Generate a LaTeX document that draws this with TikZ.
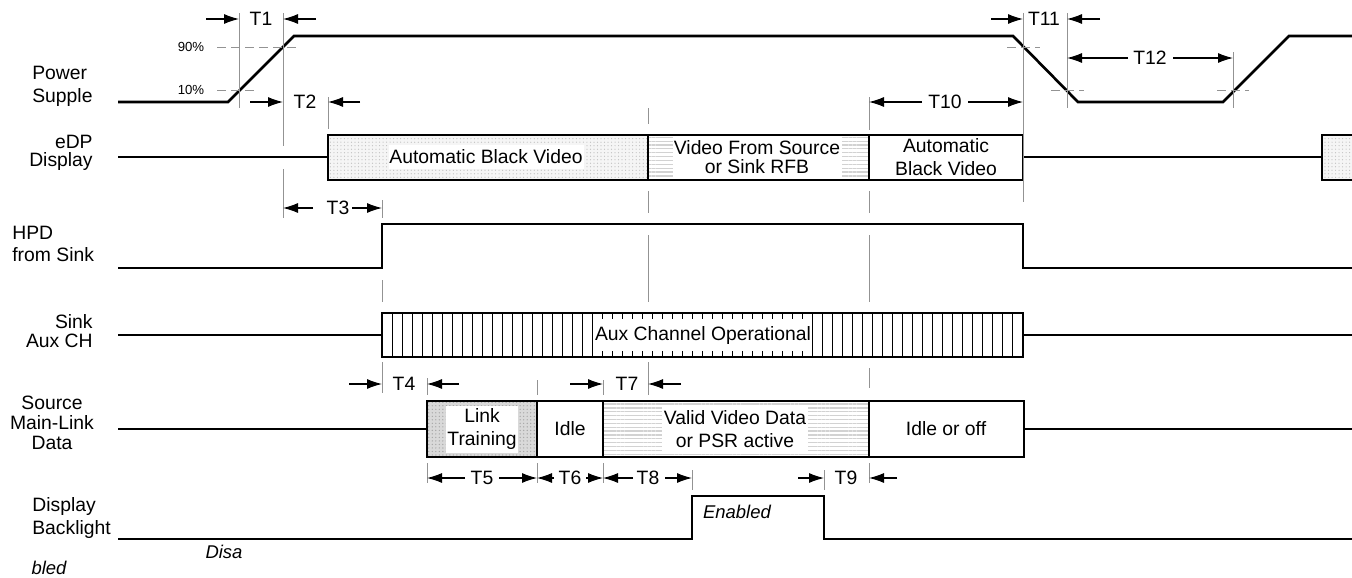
\documentclass[tikz,border=0pt]{standalone}
\usepackage{fontspec}
\setmainfont{Liberation Sans}
\usetikzlibrary{arrows.meta,patterns.meta}

\tikzstyle{sig} = [line width=1.5pt, line join=miter]
\tikzstyle{box} = [draw=black, line width=1.5pt]
\tikzstyle{guide} = [draw=gray!85, line width=0.55pt]
\tikzstyle{level} = [guide, dash pattern=on 5pt off 3pt]
\tikzstyle{dim} = [line width=0.6pt, -{Latex[length=3mm,width=2mm]}]
\tikzstyle{tlabel} = [font=\fontsize{11}{13}\selectfont, inner sep=1pt]
\tikzstyle{signame} = [font=\fontsize{11}{13}\selectfont, inner sep=0pt]
\tikzstyle{inbox} = [font=\fontsize{11}{13}\selectfont, align=center, fill=white, inner sep=0pt]
\tikzstyle{pct} = [font=\fontsize{7.5}{9}\selectfont, inner sep=0pt]
\tikzstyle{state} = [font=\fontsize{10.5}{12}\selectfont\itshape, inner sep=0pt, anchor=base]
\tikzstyle{stipple} = [preaction={fill=gray!8}, pattern={Dots[distance=2pt,radius=0.35pt]}, pattern color=gray!50]
\tikzstyle{stippledark} = [preaction={fill=gray!30}, pattern={Dots[distance=2pt,radius=0.4pt]}, pattern color=gray!70]
\tikzstyle{hlines} = [pattern={Lines[angle=0,distance=2.2pt,line width=0.7pt]}, pattern color=gray!35]

\begin{document}
\begin{tikzpicture}[x=0.2mm, y=-0.2mm]
\useasboundingbox (0,0) rectangle (1352,578);
\clip (0,0) rectangle (1352,578);

% Signal names
\node (pwr) [signame, anchor=west, align=left] at (32,86) {Power\\Supple};
\node (edp) [signame, anchor=east, align=right, font=\fontsize{11}{10.5}\selectfont] at (93,153) {eDP\\Display};
\node (hpd) [signame, anchor=west, align=left, font=\fontsize{11}{12.5}\selectfont] at (12,244) {HPD\\from Sink};
\node (sink) [signame, anchor=east, align=right, font=\fontsize{11}{10.5}\selectfont] at (93,331) {Sink\\Aux CH};
\node (src) [signame, align=center, font=\fontsize{11}{11.2}\selectfont] at (52,423) {Source\\Main-Link\\Data};
\node (bl) [signame, anchor=west, align=left] at (32,518) {Display\\Backlight};

% Fills
\path [stipple] (328,135) rectangle (648,180);
\path [hlines] (648,135) rectangle (869,180);
\path [stipple] (1322,135) rectangle (1380,180);
\path [stippledark] (427,401) rectangle (537,457);
\path [hlines] (603,401) rectangle (869,457);
\foreach \x in {392,402,...,1013}
  \draw [line width=0.5pt] (\x,313) -- (\x,357);

% States
\node (abv) [inbox, minimum width=39mm, minimum height=4.8mm] at (486,157) {Automatic Black Video};
\node (vfs) [inbox, minimum width=33.8mm, minimum height=8.6mm, font=\fontsize{11}{11}\selectfont] at (757,157) {Video From Source\\or Sink RFB};
\node (abv2) [inbox] at (946,157) {Automatic\\Black Video};
\node (aux) [inbox, minimum height=6.4mm] at (703,335) {Aux Channel Operational};
\node (lt) [inbox, minimum width=14.4mm, minimum height=9.4mm] at (482,429) {Link\\Training};
\node (idle) [inbox, fill=none] at (570,429) {Idle};
\node (vvd) [inbox, minimum width=29.2mm, minimum height=9.4mm] at (735,429) {Valid Video Data\\or PSR active};
\node (off) [inbox, fill=none] at (946,429) {Idle or off};

% Boxes
\draw [box] (328,135) rectangle (1023,180);
\draw [box] (648,135) -- (648,180) (869,135) -- (869,180);
\draw [box] (1322,135) rectangle (1380,180);
\draw [box] (382,313) rectangle (1023,357);
\draw [box] (427,401) rectangle (1024,457);
\draw [box] (537,401) -- (537,457) (603,401) -- (603,457) (869,401) -- (869,457);

% Waveforms
\draw [sig] (118,102) -- (228,102) -- (294,36) -- (1013,36) -- (1078,102) -- (1223,102) -- (1289,36) -- (1352,36);
\draw [sig] (118,157) -- (328,157) (1023,157) -- (1322,157);
\draw [sig] (118,268) -- (382,268) -- (382,224) -- (1023,224) -- (1023,268) -- (1352,268);
\draw [sig] (118,335) -- (382,335) (1023,335) -- (1352,335);
\draw [sig] (118,429) -- (427,429) (1024,429) -- (1352,429);
\draw [sig] (118,539) -- (692,539) -- (692,496) -- (824,496) -- (824,539) -- (1352,539);

\node (on) [state] at (737,518) {Enabled};
\node (dis1) [state] at (224,558) {Disa};
\node (dis2) [state] at (49,574) {bled};

% Levels
\node (p90) [pct] at (191,47) {90\%};
\node (p10) [pct] at (191,90) {10\%};
\draw [level] (217,47) -- (300,47) (1007,47) -- (1040,47);
\draw [level] (217,90) -- (256,90) (1051,90) -- (1084,90) (1217,90) -- (1249,90);

% Guides
\foreach \x/\ya/\yb in {239/13/108, 283/13/146, 283/169/218, 328/97/129,
    382/200/218, 382/280/302, 382/362/393, 427/378/395, 427/463/483,
    537/380/395, 537/463/483, 603/380/395, 603/463/483,
    648/108/124, 648/191/213, 648/235/302, 648/362/395,
    692/470/490, 824/470/490,
    869/97/130, 869/191/213, 869/235/302, 869/368/388, 869/463/483,
    1023/13/202, 1067/13/108, 1233/52/108}
  \draw [guide] (\x,\ya) -- (\x,\yb);

\coordinate (gA) at (239,0);
\coordinate (gB) at (283,0);
\coordinate (gC) at (328,0);
\coordinate (gD) at (382,0);
\coordinate (gE) at (427,0);
\coordinate (gF) at (537,0);
\coordinate (gG) at (603,0);
\coordinate (gH) at (648,0);
\coordinate (gI) at (692,0);
\coordinate (gJ) at (824,0);
\coordinate (gK) at (869,0);
\coordinate (gL) at (1023,0);
\coordinate (gM) at (1067,0);
\coordinate (gN) at (1233,0);

% Timings
\node (t1) [tlabel] at (261,19) {T1};
\draw [dim] (t1) ++(-55,0) -- (t1 -| gA);
\draw [dim] (t1) ++(55,0) -- (t1 -| gB);

\node (t2) [tlabel] at (305,102) {T2};
\draw [dim] (t2) ++(-55,0) -- (t2 -| gB);
\draw [dim] (t2) ++(55,0) -- (t2 -| gC);

\node (t3) [tlabel] at (338,208) {T3};
\draw [dim] (t3) ++(-25,0) -- (t3 -| gB);
\draw [dim] (t3) ++(14,0) -- (t3 -| gD);

\node (t4) [tlabel] at (404,384) {T4};
\draw [dim] (t4) ++(-55,0) -- (t4 -| gD);
\draw [dim] (t4) ++(55,0) -- (t4 -| gE);

\node (t5) [tlabel] at (482,478) {T5};
\draw [dim] (t5) ++(-17,0) -- (t5 -| gE);
\draw [dim] (t5) ++(17,0) -- (t5 -| gF);

\node (t6) [tlabel] at (570,478) {T6};
\draw [dim] (t6) ++(-16,0) -- (t6 -| gF);
\draw [dim] (t6) ++(16,0) -- (t6 -| gG);

\node (t7) [tlabel] at (627,384) {T7};
\draw [dim] (t7) ++(-57,0) -- (t7 -| gG);
\draw [dim] (t7) ++(54,0) -- (t7 -| gH);

\node (t8) [tlabel] at (648,478) {T8};
\draw [dim] (t8) ++(-15,0) -- (t8 -| gG);
\draw [dim] (t8) ++(17,0) -- (t8 -| gI);

\node (t9) [tlabel] at (846,478) {T9};
\draw [dim] (t9) ++(-48,0) -- (t9 -| gJ);
\draw [dim] (t9) ++(51,0) -- (t9 -| gK);

\node (t10) [tlabel] at (945,102) {T10};
\draw [dim] (t10) ++(-23,0) -- (t10 -| gK);
\draw [dim] (t10) ++(23,0) -- (t10 -| gL);

\node (t11) [tlabel] at (1044,19) {T11};
\draw [dim] (t11) ++(-53,0) -- (t11 -| gL);
\draw [dim] (t11) ++(56,0) -- (t11 -| gM);

\node (t12) [tlabel] at (1150,58) {T12};
\draw [dim] (t12) ++(-22,0) -- (t12 -| gM);
\draw [dim] (t12) ++(23,0) -- (t12 -| gN);

\end{tikzpicture}
\end{document}
